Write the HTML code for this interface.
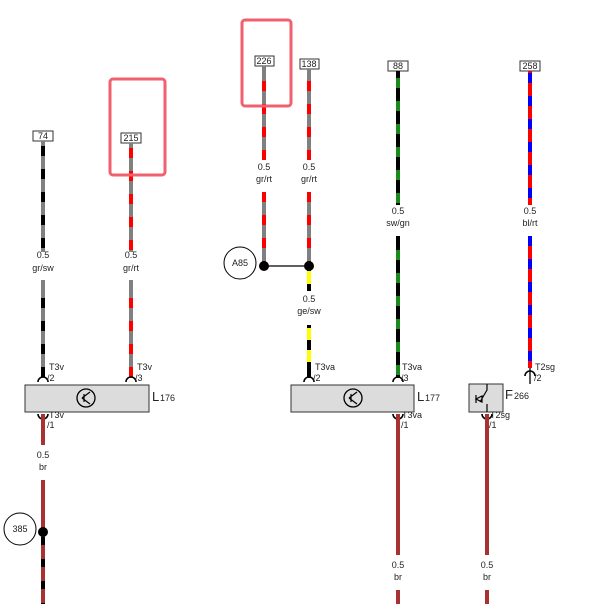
<!DOCTYPE html>
<html><head><meta charset="utf-8"><style>
html,body{margin:0;padding:0;background:#fff;}
svg{display:block;font-family:"Liberation Sans",sans-serif;}
text{font-size:9px;fill:#222;}
</style></head><body>
<svg width="604" height="604" viewBox="0 0 604 604" xmlns="http://www.w3.org/2000/svg">
<defs>
<style>
.g{stroke:#808080;stroke-width:4}
.br{stroke:#a83232;stroke-width:4}
.k{stroke:#000;stroke-width:4;stroke-dasharray:10 13}
.r{stroke:#ff0000;stroke-width:4;stroke-dasharray:10 13}
.gn{stroke:#1a8a1a;stroke-width:4;stroke-dasharray:10 13}
.y{stroke:#ffff00;stroke-width:4;stroke-dasharray:12 10}
.bl{stroke:#0000ff;stroke-width:4}
.lb{font-size:9px;text-anchor:middle}
.tag{fill:#fff;stroke:#333;stroke-width:1}
.box{fill:#dcdcdc;stroke:#333;stroke-width:1}
.conn{fill:none;stroke:#000;stroke-width:1.6}
</style>
</defs>

<!-- wire 74 -->
<rect class="tag" x="33" y="131" width="20" height="10"/><text x="43" y="139" class="lb">74</text>
<line class="g" x1="43" y1="141" x2="43" y2="252"/><line class="k" x1="43" y1="146" x2="43" y2="252"/>
<text x="43" y="258" class="lb">0.5</text><text x="43" y="271" class="lb">gr/sw</text>
<line class="g" x1="43" y1="280" x2="43" y2="378"/><line class="k" x1="43" y1="298" x2="43" y2="378"/>

<!-- wire 215 -->
<rect class="tag" x="121" y="133" width="20" height="10"/><text x="131" y="141" class="lb">215</text>
<line class="g" x1="131" y1="143" x2="131" y2="252"/><line class="r" x1="131" y1="148" x2="131" y2="252"/>
<text x="131" y="258" class="lb">0.5</text><text x="131" y="271" class="lb">gr/rt</text>
<line class="g" x1="131" y1="280" x2="131" y2="378"/><line class="r" x1="131" y1="298" x2="131" y2="378"/>

<!-- L176 -->
<path class="conn" d="M38 382 A5 5 0 0 1 48 382"/><path class="conn" d="M126 382 A5 5 0 0 1 136 382"/>
<text x="49" y="370">T3v</text><text x="47" y="381">/2</text>
<text x="137" y="370">T3v</text><text x="135" y="381">/3</text>
<rect class="box" x="25" y="385" width="124" height="27"/>
<circle cx="86" cy="398" r="9" fill="none" stroke="#000" stroke-width="1.3"/>
<path d="M82 398 L90 392 M82 398 L90 404 M84 394 L84 402" stroke="#000" stroke-width="1.2" fill="none"/>
<text x="152" y="401" style="font-size:13px">L</text><text x="160" y="401" style="font-size:9px">176</text>
<path class="conn" d="M38 414 A5 5 0 0 0 48 414"/>
<text x="49" y="418">T3v</text><text x="47" y="428">/1</text>
<line class="br" x1="43" y1="414" x2="43" y2="445"/>
<text x="43" y="458" class="lb">0.5</text><text x="43" y="470" class="lb">br</text>
<line class="br" x1="43" y1="480" x2="43" y2="604"/>
<line stroke="#000" stroke-width="4" stroke-dasharray="8 14" x1="43" y1="537" x2="43" y2="604"/>
<circle cx="20" cy="529" r="16" fill="#fff" stroke="#000" stroke-width="1"/><text x="20" y="532" class="lb">385</text>
<circle cx="43" cy="532" r="5" fill="#000"/>

<!-- wire 226 -->
<rect class="tag" x="255" y="56" width="19" height="10"/><text x="264" y="64" class="lb">226</text>
<line class="g" x1="264" y1="66" x2="264" y2="160"/><line class="r" x1="264" y1="81" x2="264" y2="160"/>
<text x="264" y="170" class="lb">0.5</text><text x="264" y="182" class="lb">gr/rt</text>
<line class="g" x1="264" y1="192" x2="264" y2="265"/><line class="r" x1="264" y1="192" x2="264" y2="265"/>

<!-- wire 138 -->
<rect class="tag" x="300" y="59" width="19" height="10"/><text x="309" y="67" class="lb">138</text>
<line class="g" x1="309" y1="69" x2="309" y2="160"/><line class="r" x1="309" y1="81" x2="309" y2="160"/>
<text x="309" y="170" class="lb">0.5</text><text x="309" y="182" class="lb">gr/rt</text>
<line class="g" x1="309" y1="192" x2="309" y2="265"/><line class="r" x1="309" y1="192" x2="309" y2="265"/>
<line x1="264" y1="266" x2="309" y2="266" stroke="#000" stroke-width="1.3"/>
<line stroke="#000" stroke-width="4" x1="309" y1="266" x2="309" y2="291"/><line stroke="#ffff00" stroke-width="4" x1="309" y1="271" x2="309" y2="284"/>
<text x="309" y="302" class="lb">0.5</text><text x="309" y="314" class="lb">ge/sw</text>
<line stroke="#000" stroke-width="4" x1="309" y1="325" x2="309" y2="378"/><line class="y" x1="309" y1="328" x2="309" y2="372"/>
<circle cx="264" cy="266" r="5" fill="#000"/><circle cx="309" cy="266" r="5" fill="#000"/>
<circle cx="240" cy="263" r="16" fill="#fff" stroke="#000" stroke-width="1"/><text x="240" y="266" class="lb">A85</text>

<!-- wire 88 -->
<rect class="tag" x="388" y="61" width="20" height="10"/><text x="398" y="69" class="lb">88</text>
<line stroke="#000" stroke-width="4" x1="398" y1="71" x2="398" y2="205"/><line class="gn" x1="398" y1="78" x2="398" y2="205"/>
<text x="398" y="214" class="lb">0.5</text><text x="398" y="226" class="lb">sw/gn</text>
<line stroke="#000" stroke-width="4" x1="398" y1="236" x2="398" y2="378"/><line class="gn" x1="398" y1="250" x2="398" y2="378"/>

<!-- L177 -->
<path class="conn" d="M304 382 A5 5 0 0 1 314 382"/><path class="conn" d="M393 382 A5 5 0 0 1 403 382"/>
<text x="315" y="370">T3va</text><text x="313" y="381">/2</text>
<text x="402" y="370">T3va</text><text x="401" y="381">/3</text>
<rect class="box" x="291" y="385" width="123" height="27"/>
<circle cx="353" cy="398" r="9" fill="none" stroke="#000" stroke-width="1.3"/>
<path d="M349 398 L357 392 M349 398 L357 404 M351 394 L351 402" stroke="#000" stroke-width="1.2" fill="none"/>
<text x="417" y="401" style="font-size:13px">L</text><text x="425" y="401" style="font-size:9px">177</text>
<path class="conn" d="M393 414 A5 5 0 0 0 403 414"/>
<text x="402" y="418">T3va</text><text x="401" y="428">/1</text>
<line class="br" x1="398" y1="414" x2="398" y2="555"/>
<text x="398" y="568" class="lb">0.5</text><text x="398" y="580" class="lb">br</text>
<line class="br" x1="398" y1="590" x2="398" y2="604"/>

<!-- wire 258 -->
<rect class="tag" x="520" y="61" width="20" height="10"/><text x="530" y="69" class="lb">258</text>
<line class="r" style="stroke-dasharray:none" x1="530" y1="71" x2="530" y2="205"/><line class="bl" stroke-dasharray="10 13" x1="530" y1="73" x2="530" y2="205"/>
<text x="530" y="214" class="lb">0.5</text><text x="530" y="226" class="lb">bl/rt</text>
<line class="r" style="stroke-dasharray:none" x1="530" y1="236" x2="530" y2="368"/><line class="bl" stroke-dasharray="10 13" x1="530" y1="236" x2="530" y2="362"/>
<path class="conn" d="M525 376 A5 5 0 0 1 535 376"/>
<line stroke="#000" stroke-width="1.3" x1="530" y1="368" x2="530" y2="384"/>
<text x="535" y="370">T2sg</text><text x="534" y="381">/2</text>

<!-- F266 -->
<rect class="box" x="469" y="384" width="34" height="28"/>
<path d="M487 384 L487 390 L480 402 M487 404 L487 412 M476 395 L476 403 M476 399 L482 396 L482 402 Z" stroke="#000" stroke-width="1.2" fill="none"/>
<text x="505" y="399" style="font-size:13px">F</text><text x="514" y="399" style="font-size:9px">266</text>
<path class="conn" d="M482 414 A5 5 0 0 0 492 414"/>
<text x="490" y="418">T2sg</text><text x="489" y="428">/1</text>
<line class="br" x1="487" y1="414" x2="487" y2="555"/>
<text x="487" y="568" class="lb">0.5</text><text x="487" y="580" class="lb">br</text>
<line class="br" x1="487" y1="590" x2="487" y2="604"/>

<!-- highlights -->
<rect x="110" y="79" width="55" height="96" rx="3" fill="none" stroke="#f0606e" stroke-width="3"/>
<rect x="242" y="20" width="49" height="86" rx="3" fill="none" stroke="#f0606e" stroke-width="3"/>
</svg>
</body></html>
